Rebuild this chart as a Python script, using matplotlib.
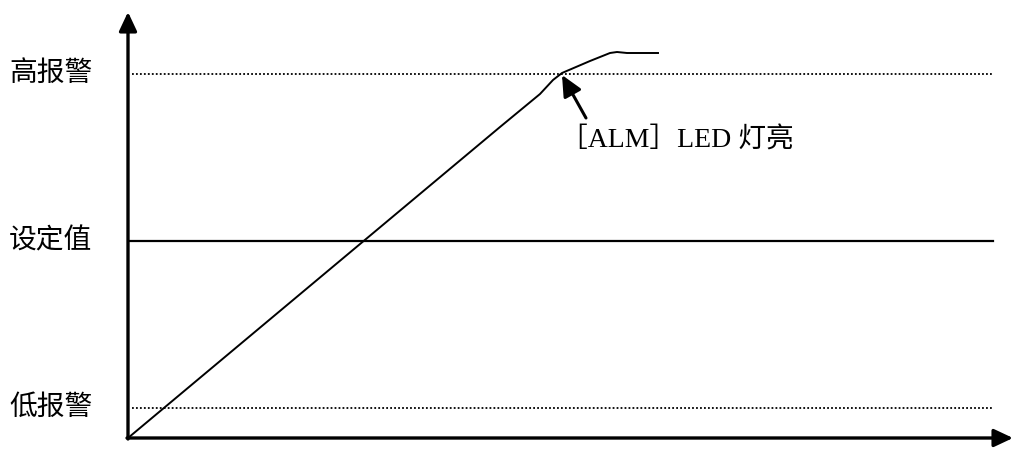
import matplotlib.pyplot as plt

plt.rcParams['font.family'] = ['Liberation Serif', 'Noto Sans CJK SC']

# levels (y) of the three reference lines
level_names = ['高报警', '设定值', '低报警']
level_values = [364, 197, 30]
level_styles = [':', '-', ':']

# process value curve
curve_x = [0, 372, 412, 425, 434, 462, 482, 489, 499, 530]
curve_y = [0, 311, 344, 358, 365, 377, 385, 386, 385, 385]

fig = plt.figure(figsize=(10.11, 4.73), dpi=100)
ax = fig.add_axes([0, 0, 1, 1])
ax.set_xlim(-128, 883)
ax.set_ylim(-35, 438)
ax.axis('off')

head = '-|>,head_length=1.15,head_width=0.54'

# axes with arrows
ax.annotate('', xy=(0, 426), xytext=(0, -1), annotation_clip=False,
            arrowprops=dict(arrowstyle=head, lw=2.4, color='black',
                            shrinkA=0, shrinkB=0, mutation_scale=10))
ax.annotate('', xy=(885, 0), xytext=(-1, 0), annotation_clip=False,
            arrowprops=dict(arrowstyle=head, lw=2.4, color='black',
                            shrinkA=0, shrinkB=0, mutation_scale=10))

for name, val, ls in zip(level_names, level_values, level_styles):
    if ls == '-':
        ax.plot([2, 865], [val, val], color='black', lw=1.6, ls=ls)
    else:
        ax.plot([4, 865], [val, val], color='black', lw=1.3, ls=(0, (1, 1.2)))
    ax.text(-119, val, name, fontsize=20, ha='left', va='center')

ax.plot(curve_x, curve_y, color='black', lw=1.4)

ax.annotate('', xy=(434, 363), xytext=(458, 320),
            arrowprops=dict(arrowstyle=head, lw=2.2, color='black',
                            shrinkA=0, shrinkB=0, mutation_scale=11))
ax.text(432, 297, '［ALM］LED 灯亮', fontsize=20, ha='left', va='center')

fig.savefig('out.png', dpi=100)
